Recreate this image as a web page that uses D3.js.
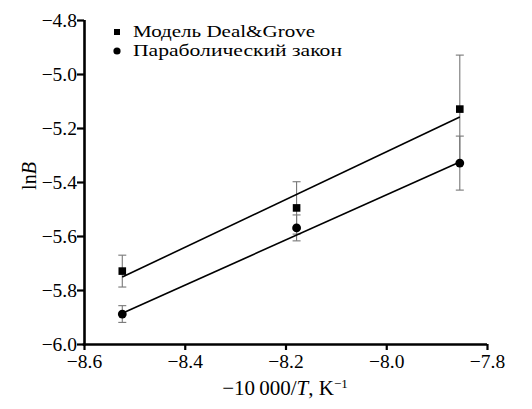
<!DOCTYPE html>
<html><head><meta charset="utf-8">
<script src="https://cdn.jsdelivr.net/npm/d3@7"></script>
<style>
html,body{margin:0;padding:0;background:#fff;}
svg{display:block;}
svg text{font-family:"Liberation Serif","Times New Roman",serif !important;}
</style></head>
<body><svg id="c" width="532" height="409"></svg>
<script>
// data
const xVals = [-8.524, -8.178, -7.854];
const dealGrove = [-5.730, -5.496, -5.130];
const dealGroveErr = [0.059, 0.097, 0.200];
const parabolic = [-5.889, -5.570, -5.330];
const parabolicErr = [0.031, 0.048, 0.100];
const fitDealGrove = [-5.752, -5.159];   // fitted line at first and last x
const fitParabolic = [-5.886, -5.326];
const xTicks = [-8.6, -8.4, -8.2, -8.0, -7.8];
const yTicks = [-4.8, -5.0, -5.2, -5.4, -5.6, -5.8, -6.0];
const legendLabels = ["Модель Deal&Grove", "Параболический закон"];

const svg = d3.select("#c");
const x = d3.scaleLinear().domain([-8.6, -7.8]).range([84, 487]);
const y = d3.scaleLinear().domain([-6.0, -4.8]).range([344, 20]);
const fmt = d => d.toFixed(1).replace("-", "\u2212");

const xAxis = svg.append("g").attr("transform", "translate(0,344)")
  .call(d3.axisBottom(x).tickValues(xTicks).tickFormat(fmt).tickSize(6).tickSizeOuter(0));
const yAxis = svg.append("g").attr("transform", "translate(84,0)")
  .call(d3.axisLeft(y).tickValues(yTicks).tickFormat(fmt).tickSize(7).tickSizeOuter(0));
[xAxis, yAxis].forEach(g => {
  g.attr("font-family", "Liberation Serif").attr("font-size", 19.5);
  g.select(".domain").attr("stroke", "#000").attr("stroke-width", 2.6);
  g.selectAll(".tick line").attr("stroke", "#000").attr("stroke-width", 2.2);
  g.selectAll(".tick text").attr("fill", "#000");
});
xAxis.select(".domain").attr("d", "M82.7,0.5H487");
yAxis.select(".domain").attr("d", "M0.5,20V345.5");
xAxis.selectAll(".tick text").attr("dy", "0.95em").attr("y", 5);
yAxis.selectAll(".tick text").attr("x", -7).attr("dy", "0.34em");

// error bars
function errBars(vals, errs) {
  const g = svg.append("g").attr("stroke", "#777").attr("stroke-width", 1.1);
  vals.forEach((v, i) => {
    const cx = x(xVals[i]);
    g.append("line").attr("x1", cx).attr("x2", cx).attr("y1", y(v + errs[i])).attr("y2", y(v - errs[i]));
    [v + errs[i], v - errs[i]].forEach(e =>
      g.append("line").attr("x1", cx - 4).attr("x2", cx + 4).attr("y1", y(e)).attr("y2", y(e)));
  });
}
errBars(dealGrove, dealGroveErr);
errBars(parabolic, parabolicErr);

// fit lines
[fitDealGrove, fitParabolic].forEach(f => {
  svg.append("line")
    .attr("x1", x(xVals[0])).attr("y1", y(f[0]))
    .attr("x2", x(xVals[xVals.length - 1])).attr("y2", y(f[1]))
    .attr("stroke", "#000").attr("stroke-width", 1.6);
});

// markers
svg.append("g").selectAll("rect").data(dealGrove).join("rect")
  .attr("x", (d, i) => x(xVals[i]) - 3.8).attr("y", d => y(d) - 3.8)
  .attr("width", 7.6).attr("height", 7.6).attr("fill", "#000");
svg.append("g").selectAll("circle").data(parabolic).join("circle")
  .attr("cx", (d, i) => x(xVals[i])).attr("cy", d => y(d)).attr("r", 4.4).attr("fill", "#000");

// legend
const lg = svg.append("g");
lg.append("rect").attr("x", 114).attr("y", 29).attr("width", 6).attr("height", 6).attr("fill", "#000");
lg.append("circle").attr("cx", 117).attr("cy", 51).attr("r", 3.6).attr("fill", "#000");
const legendWidths = [182, 209];
lg.selectAll("text").data(legendLabels).join("text")
  .attr("x", 133).attr("y", (d, i) => 37 + i * 19)
  .attr("textLength", (d, i) => legendWidths[i]).attr("lengthAdjust", "spacingAndGlyphs")
  .style("font-size", "17px").attr("fill", "#000").text(d => d);

// axis titles
const xt = svg.append("text").attr("x", 285).attr("y", 395).attr("text-anchor", "middle")
  .style("font-size", "21px").attr("fill", "#000");
xt.append("tspan").text("\u221210\u2009000/");
xt.append("tspan").style("font-style", "italic").text("T");
xt.append("tspan").text(", K");
xt.append("tspan").attr("dy", -7).style("font-size", "13px").text("\u22121");

const yt = svg.append("text").attr("transform", "translate(36,176) rotate(-90)")
  .attr("text-anchor", "middle").style("font-size", "20px").attr("fill", "#000");
yt.append("tspan").text("ln");
yt.append("tspan").style("font-style", "italic").text("B");
</script></body></html>
